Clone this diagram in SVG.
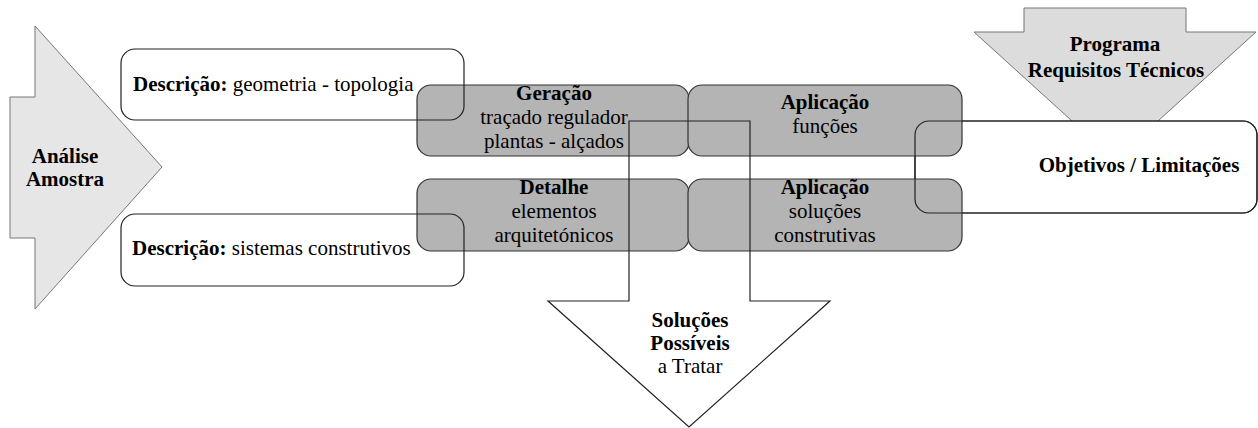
<svg xmlns="http://www.w3.org/2000/svg" xmlns:xlink="http://www.w3.org/1999/xlink" width="1258" height="428" viewBox="0 0 1258 428">
<style>
text{font-family:"Liberation Serif","Times New Roman",serif;font-size:21px;fill:#000}
.b{font-weight:bold}
.c{text-anchor:middle}
.gray{fill:#b4b4b4;stroke:#333;stroke-width:1.2}
.outline{fill:none;stroke:#222;stroke-width:1.2}
.white{fill:#fff;stroke:#222;stroke-width:1.2}
.arrow{stroke:#777;stroke-width:1}
</style>
<rect width="1258" height="428" fill="#fff"/>
<defs>
<rect id="obj-shape" x="915" y="121" width="342" height="92" rx="14"/>
</defs>
<g id="analise">
<polygon class="arrow" fill="#e6e6e6" points="10,97 35,97 35,26 162,167 35,309 35,238 10,238"/>
<text class="b c" x="65" y="163">Análise</text>
<text class="b c" x="65" y="186">Amostra</text>
</g>
<g id="programa">
<polygon class="arrow" fill="#dcdcdc" points="1024,8 1186,8 1186,32 1256,32 1115,160 974,32 1024,32"/>
<text class="b c" x="1115" y="51">Programa</text>
<text class="b c" x="1116" y="77">Requisitos Técnicos</text>
</g>
<g id="objetivos">
<use xlink:href="#obj-shape" class="white"/>
<text class="b c" x="1139" y="172">Objetivos / Limitações</text>
</g>
<g id="geracao">
<rect class="gray" x="417" y="85" width="272" height="71" rx="14"/>
<text class="b c" x="554" y="100">Geração</text>
<text class="c" x="554" y="124">traçado regulador</text>
<text class="c" x="554" y="148">plantas - alçados</text>
</g>
<g id="aplicacao-funcoes">
<rect class="gray" x="688" y="85" width="274" height="71" rx="14"/>
<text class="b c" x="825" y="109">Aplicação</text>
<text class="c" x="825" y="133">funções</text>
</g>
<g id="detalhe">
<rect class="gray" x="417" y="179" width="272" height="72" rx="14"/>
<text class="b c" x="554" y="194">Detalhe</text>
<text class="c" x="554" y="218">elementos</text>
<text class="c" x="554" y="242">arquitetónicos</text>
</g>
<g id="aplicacao-solucoes">
<rect class="gray" x="688" y="179" width="274" height="72" rx="14"/>
<text class="b c" x="825" y="194">Aplicação</text>
<text class="c" x="825" y="218">soluções</text>
<text class="c" x="825" y="242">construtivas</text>
</g>
<g id="objetivos-outline">
<use xlink:href="#obj-shape" class="outline"/>
</g>
<g id="descricao-geometria">
<rect class="outline" x="121" y="49" width="343" height="71" rx="14"/>
<text x="133" y="91"><tspan class="b">Descrição:</tspan> geometria - topologia</text>
</g>
<g id="descricao-sistemas">
<rect class="outline" x="121" y="214" width="343" height="72" rx="14"/>
<text x="132" y="255"><tspan class="b">Descrição:</tspan> sistemas construtivos</text>
</g>
<g id="solucoes">
<polygon class="outline" points="629,121 750,121 750,301 830,301 689,427 548,301 629,301"/>
<text class="b c" x="690" y="327">Soluções</text>
<text class="b c" x="690" y="350">Possíveis</text>
<text class="c" x="690" y="373">a Tratar</text>
</g>
<g id="connectors"/>
</svg>
